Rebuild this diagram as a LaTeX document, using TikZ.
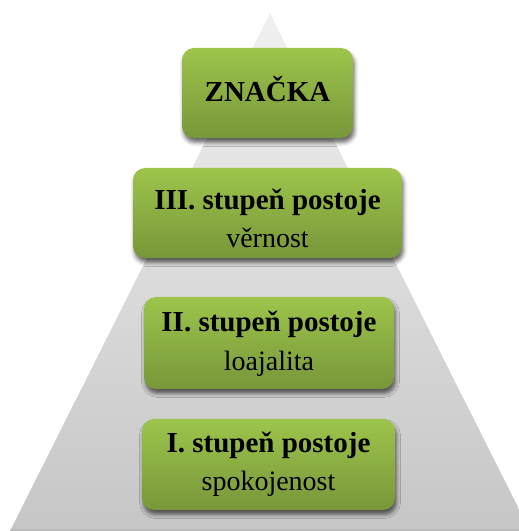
\documentclass[tikz,border=0pt]{standalone}
\usepackage{fontspec}
\setmainfont{Liberation Serif}
\usetikzlibrary{shadows.blur}
\definecolor{leafTop}{HTML}{9DC44B}
\definecolor{leafBot}{HTML}{78973A}
\definecolor{pyrTop}{HTML}{F0F0F0}
\definecolor{pyrBot}{HTML}{C6C6C6}
\tikzset{
  levelbox/.style={rounded corners=12pt, top color=leafTop, bottom color=leafBot,
    draw=none, inner sep=0pt,
    blur shadow={shadow xshift=1.5pt, shadow yshift=-4.5pt, shadow blur radius=4pt, shadow opacity=60}},
  headtxt/.style={anchor=base, inner sep=0pt, font=\fontsize{29}{33}\selectfont\bfseries},
  subtxt/.style={anchor=base, inner sep=0pt, font=\fontsize{28}{32}\selectfont},
}
\begin{document}
\begin{tikzpicture}[x=1pt,y=1pt]
  \useasboundingbox (0,0) rectangle (519,531);
  % pyramid backdrop
  \begin{scope}
    \clip (0,0) rectangle (519,531);
    \shade[top color=pyrTop, bottom color=pyrBot] (270,518) -- (10,0) -- (530,0) -- cycle;
    \fill[pyrBot!90!black, opacity=0.5] (10,0) rectangle (519,2);
  \end{scope}
  % level boxes
  \node[levelbox, minimum width=171pt, minimum height=90pt] (brand) at (267.5,438) {};
  \node[levelbox, minimum width=269pt, minimum height=90pt] (lvl3) at (267.5,318) {};
  \node[levelbox, minimum width=250pt, minimum height=92pt] (lvl2) at (269,188) {};
  \node[levelbox, minimum width=253pt, minimum height=91pt] (lvl1) at (268.5,66.5) {};
  % labels
  \node[headtxt] (brandT) at (brand.center |- 0,429) {ZNAČKA};
  \node[headtxt] (lvl3T) at (lvl3.center |- 0,321) {III. stupeň postoje};
  \node[subtxt] (lvl3S) at (lvl3.center |- 0,283) {věrnost};
  \node[headtxt] (lvl2T) at (lvl2.center |- 0,199) {II. stupeň postoje};
  \node[subtxt] (lvl2S) at (lvl2.center |- 0,160) {loajalita};
  \node[headtxt] (lvl1T) at (lvl1.center |- 0,78) {I. stupeň postoje};
  \node[subtxt] (lvl1S) at (lvl1.center |- 0,41) {spokojenost};
\end{tikzpicture}
\end{document}
